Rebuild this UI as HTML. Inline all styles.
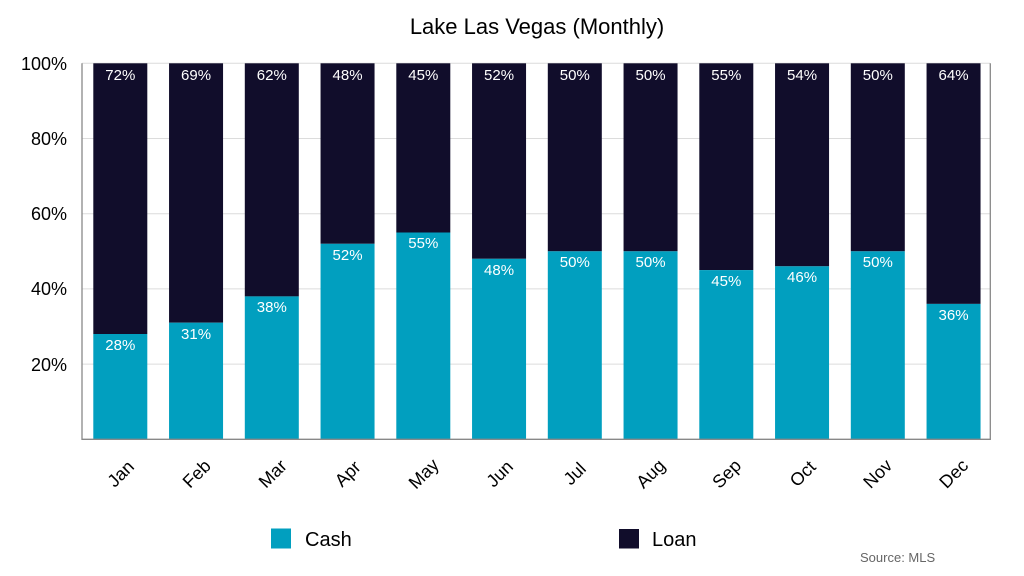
<!DOCTYPE html>
<html><head><meta charset="utf-8"><style>
html,body{margin:0;padding:0;background:#fff}
svg{display:block;font-family:"Liberation Sans",Arial,sans-serif}
</style></head><body>
<svg width="1024" height="576" viewBox="0 0 1024 576" xmlns="http://www.w3.org/2000/svg">
<text x="537" y="34" font-size="22" text-anchor="middle" fill="#000">Lake Las Vegas (Monthly)</text>
<g stroke="#dcdcdc" stroke-width="1">
<line x1="82" y1="364.1" x2="990" y2="364.1"/>
<line x1="82" y1="288.9" x2="990" y2="288.9"/>
<line x1="82" y1="213.7" x2="990" y2="213.7"/>
<line x1="82" y1="138.5" x2="990" y2="138.5"/>
<line x1="82" y1="63.3" x2="990" y2="63.3"/>
</g>
<g font-size="18" text-anchor="end" fill="#000">
<text x="67" y="70">100%</text>
<text x="67" y="145">80%</text>
<text x="67" y="220">60%</text>
<text x="67" y="295">40%</text>
<text x="67" y="371">20%</text>
</g>
<g fill="#110D2B">
<rect x="93.3" y="63.3" width="54" height="270.7"/>
<rect x="169.05" y="63.3" width="54" height="259.4"/>
<rect x="244.8" y="63.3" width="54" height="233.1"/>
<rect x="320.55" y="63.3" width="54" height="180.5"/>
<rect x="396.3" y="63.3" width="54" height="169.2"/>
<rect x="472.05" y="63.3" width="54" height="195.5"/>
<rect x="547.8" y="63.3" width="54" height="188"/>
<rect x="623.55" y="63.3" width="54" height="188"/>
<rect x="699.3" y="63.3" width="54" height="206.8"/>
<rect x="775.05" y="63.3" width="54" height="203"/>
<rect x="850.8" y="63.3" width="54" height="188"/>
<rect x="926.55" y="63.3" width="54" height="240.6"/>
</g>
<g fill="#019FBF">
<rect x="93.3" y="334" width="54" height="105.3"/>
<rect x="169.05" y="322.7" width="54" height="116.6"/>
<rect x="244.8" y="296.4" width="54" height="142.9"/>
<rect x="320.55" y="243.8" width="54" height="195.5"/>
<rect x="396.3" y="232.5" width="54" height="206.8"/>
<rect x="472.05" y="258.8" width="54" height="180.5"/>
<rect x="547.8" y="251.3" width="54" height="188"/>
<rect x="623.55" y="251.3" width="54" height="188"/>
<rect x="699.3" y="270.1" width="54" height="169.2"/>
<rect x="775.05" y="266.3" width="54" height="173"/>
<rect x="850.8" y="251.3" width="54" height="188"/>
<rect x="926.55" y="303.9" width="54" height="135.4"/>
</g>
<g font-size="15" fill="#fff" text-anchor="middle">
<text x="120.3" y="80">72%</text><text x="196.05" y="80">69%</text><text x="271.8" y="80">62%</text>
<text x="347.55" y="80">48%</text><text x="423.3" y="80">45%</text><text x="499.05" y="80">52%</text>
<text x="574.8" y="80">50%</text><text x="650.55" y="80">50%</text><text x="726.3" y="80">55%</text>
<text x="802.05" y="80">54%</text><text x="877.8" y="80">50%</text><text x="953.55" y="80">64%</text>
<text x="120.3" y="350">28%</text><text x="196.05" y="339">31%</text><text x="271.8" y="312">38%</text>
<text x="347.55" y="260">52%</text><text x="423.3" y="248">55%</text><text x="499.05" y="275">48%</text>
<text x="574.8" y="267">50%</text><text x="650.55" y="267">50%</text><text x="726.3" y="286">45%</text>
<text x="802.05" y="282">46%</text><text x="877.8" y="267">50%</text><text x="953.55" y="320">36%</text>
</g>
<polyline points="82,63.3 82,439.3 990.3,439.3 990.3,63.3" fill="none" stroke="#888" stroke-width="1.3"/>
<g font-size="18" text-anchor="middle" fill="#000">
<text transform="translate(125,478) rotate(-45)">Jan</text>
<text transform="translate(201,478) rotate(-45)">Feb</text>
<text transform="translate(277,478) rotate(-45)">Mar</text>
<text transform="translate(352,478) rotate(-45)">Apr</text>
<text transform="translate(428,478) rotate(-45)">May</text>
<text transform="translate(504,478) rotate(-45)">Jun</text>
<text transform="translate(579,478) rotate(-45)">Jul</text>
<text transform="translate(655,478) rotate(-45)">Aug</text>
<text transform="translate(731,478) rotate(-45)">Sep</text>
<text transform="translate(807,478) rotate(-45)">Oct</text>
<text transform="translate(882,478) rotate(-45)">Nov</text>
<text transform="translate(958,478) rotate(-45)">Dec</text>
</g>
<rect x="271" y="528.5" width="20" height="20" fill="#019FBF"/>
<text x="305" y="546" font-size="20" fill="#000">Cash</text>
<rect x="619" y="529" width="20" height="19.5" fill="#110D2B"/>
<text x="652" y="546" font-size="20" fill="#000">Loan</text>
<text x="860" y="562" font-size="13" fill="#666">Source: MLS</text>
</svg>
</body></html>
